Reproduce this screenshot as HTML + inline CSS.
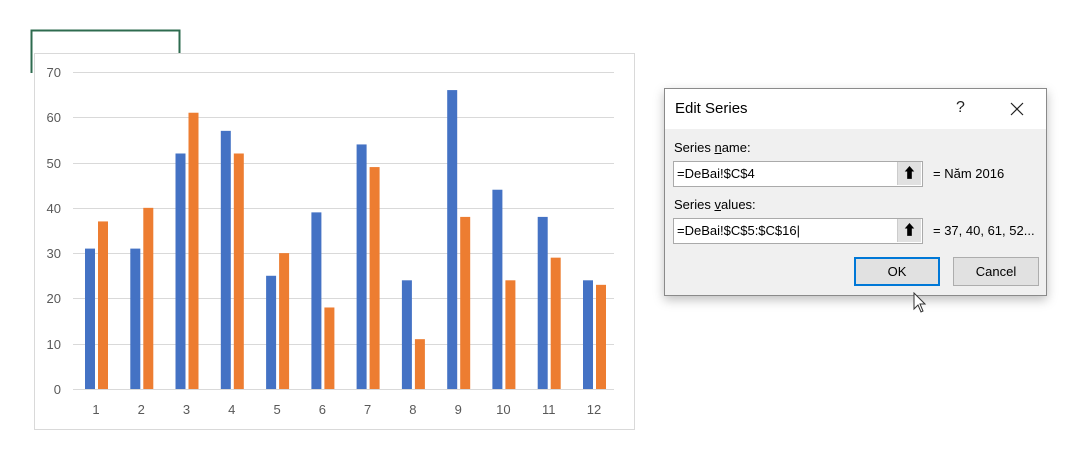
<!DOCTYPE html>
<html><head><meta charset="utf-8"><style>
body{margin:0;width:1071px;height:449px;background:#fff;overflow:hidden;font-family:"Liberation Sans","Noto Sans CJK JP",sans-serif;position:relative}
.abs{position:absolute}
</style></head><body>
<svg class="abs" style="left:0;top:0" width="1071" height="449">
<rect x="34.5" y="53.5" width="600" height="376" fill="#fff" stroke="#d9d9d9"/>
<path d="M31.5 73 V30.5 H179.5 V53" fill="none" stroke="#2e6b4f" stroke-width="2"/>
<g stroke="#d9d9d9" stroke-width="1">
<line x1="73" x2="614" y1="72.5" y2="72.5"/><line x1="73" x2="614" y1="117.5" y2="117.5"/>
<line x1="73" x2="614" y1="163.5" y2="163.5"/><line x1="73" x2="614" y1="208.5" y2="208.5"/>
<line x1="73" x2="614" y1="253.5" y2="253.5"/><line x1="73" x2="614" y1="298.5" y2="298.5"/>
<line x1="73" x2="614" y1="344.5" y2="344.5"/><line x1="73" x2="614" y1="389.5" y2="389.5"/>
</g>
<g font-size="13" fill="#595959" text-anchor="end" font-family="Liberation Sans, sans-serif">
<text x="61" y="77">70</text><text x="61" y="122">60</text><text x="61" y="168">50</text><text x="61" y="213">40</text>
<text x="61" y="258">30</text><text x="61" y="303">20</text><text x="61" y="349">10</text><text x="61" y="394">0</text>
</g>
<g font-size="13" fill="#595959" text-anchor="middle" font-family="Liberation Sans, sans-serif">
<text x="96" y="414">1</text><text x="141.3" y="414">2</text><text x="186.5" y="414">3</text><text x="231.8" y="414">4</text>
<text x="277.1" y="414">5</text><text x="322.4" y="414">6</text><text x="367.6" y="414">7</text><text x="412.9" y="414">8</text>
<text x="458.2" y="414">9</text><text x="503.4" y="414">10</text><text x="548.7" y="414">11</text><text x="594" y="414">12</text>
</g>
<g transform="translate(0,389) scale(1,-4.529)">
<g fill="#4472c4">
<rect x="85" y="0" width="10" height="31"/><rect x="130.3" y="0" width="10" height="31"/><rect x="175.5" y="0" width="10" height="52"/>
<rect x="220.8" y="0" width="10" height="57"/><rect x="266.1" y="0" width="10" height="25"/><rect x="311.4" y="0" width="10" height="39"/>
<rect x="356.6" y="0" width="10" height="54"/><rect x="401.9" y="0" width="10" height="24"/><rect x="447.2" y="0" width="10" height="66"/>
<rect x="492.4" y="0" width="10" height="44"/><rect x="537.7" y="0" width="10" height="38"/><rect x="583" y="0" width="10" height="24"/>
</g>
<g fill="#ed7d31">
<rect x="98" y="0" width="10" height="37"/><rect x="143.3" y="0" width="10" height="40"/><rect x="188.5" y="0" width="10" height="61"/>
<rect x="233.8" y="0" width="10" height="52"/><rect x="279.1" y="0" width="10" height="30"/><rect x="324.4" y="0" width="10" height="18"/>
<rect x="369.6" y="0" width="10" height="49"/><rect x="414.9" y="0" width="10" height="11"/><rect x="460.2" y="0" width="10" height="38"/>
<rect x="505.4" y="0" width="10" height="24"/><rect x="550.7" y="0" width="10" height="29"/><rect x="596" y="0" width="10" height="23"/>
</g>
</g>
</svg>
<div class="abs" style="left:664px;top:88px;width:381px;height:206px;border:1px solid #8a8a8a;background:#f0f0f0;box-shadow:0 4px 10px rgba(0,0,0,0.25)">
 <div class="abs" style="left:0;top:0;width:381px;height:40px;background:#fff"></div>
 <div class="abs" style="left:10px;top:11px;font-size:15px;color:#000">Edit Series</div>
 <div class="abs" style="left:291px;top:10px;font-size:16px;color:#222">?</div>
 <svg class="abs" style="left:345px;top:13px" width="14" height="14"><path d="M1 1L13 13M13 1L1 13" stroke="#222" stroke-width="1.2"/></svg>
 <div class="abs" style="left:9px;top:51px;font-size:13px;color:#000">Series <u>n</u>ame:</div>
 <div class="abs" style="left:8px;top:72px;width:248px;height:24px;border:1px solid #aaa;background:#fff"></div>
 <div class="abs" style="left:12px;top:77px;font-size:13px">=DeBai!$C$4</div>
 <div class="abs" style="left:232px;top:73px;width:23px;height:23px;background:#e1e1e1;border-left:1px solid #ccc;text-align:center;font-size:14px;font-weight:bold;line-height:22px">&#x2B06;</div>
 <div class="abs" style="left:268px;top:77px;font-size:13px">= Năm 2016</div>
 <div class="abs" style="left:9px;top:108px;font-size:13px;color:#000">Series <u>v</u>alues:</div>
 <div class="abs" style="left:8px;top:129px;width:248px;height:24px;border:1px solid #aaa;background:#fff"></div>
 <div class="abs" style="left:12px;top:134px;font-size:13px">=DeBai!$C$5:$C$16|</div>
 <div class="abs" style="left:232px;top:130px;width:23px;height:23px;background:#e1e1e1;border-left:1px solid #ccc;text-align:center;font-size:14px;font-weight:bold;line-height:22px">&#x2B06;</div>
 <div class="abs" style="left:268px;top:134px;font-size:13px">= 37, 40, 61, 52...</div>
 <div class="abs" style="left:189px;top:168px;width:82px;height:25px;border:2px solid #0078d7;background:#e1e1e1;text-align:center;line-height:25px;font-size:13px">OK</div>
 <div class="abs" style="left:288px;top:168px;width:84px;height:27px;border:1px solid #adadad;background:#e1e1e1;text-align:center;line-height:27px;font-size:13px">Cancel</div>
</div>
<svg class="abs" style="left:913px;top:292px" width="14" height="22"><path d="M1 1V17L5 13L8 20L10 19L7 12H12Z" fill="#fff" stroke="#333" stroke-width="1"/></svg>
</body></html>
